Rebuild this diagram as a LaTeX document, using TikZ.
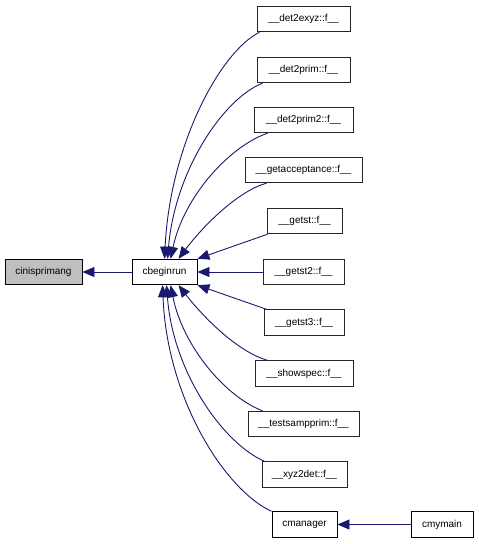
\documentclass[tikz,border=0pt]{standalone}
\usepackage{fontspec}
\setmainfont{Liberation Sans}
\usetikzlibrary{arrows.meta}
\definecolor{edgeblue}{HTML}{191970}
\definecolor{boxgray}{HTML}{BFBFBF}
\tikzset{
  box/.style={draw=black, line width=0.9pt, inner sep=0pt, minimum height=25.5pt, font=\fontsize{10}{12}\selectfont, fill=white},
  rbox/.style={box, draw=black!85},
  edge/.style={draw=edgeblue, line width=0.9pt, -{Triangle[length=12pt,width=10pt]}}
}
\begin{document}
\begin{tikzpicture}[x=1pt,y=-1pt]
\useasboundingbox (0,0) rectangle (479,544);
\node[box, fill=boxgray, minimum width=77pt] (ci) at (43.5,272) {cinisprimang};
\node[box, minimum width=65pt] (cb) at (164.5,272) {cbeginrun};
\node[rbox, minimum width=93pt] (d1) at (303.5,19) {\_\_det2exyz::f\_\_};
\node[rbox, minimum width=93pt] (d2) at (303.5,70) {\_\_det2prim::f\_\_};
\node[rbox, minimum width=99pt] (d3) at (303.5,120) {\_\_det2prim2::f\_\_};
\node[rbox, minimum width=117pt] (ga) at (303.5,170) {\_\_getacceptance::f\_\_};
\node[rbox, minimum width=75pt] (g1) at (304.5,221) {\_\_getst::f\_\_};
\node[rbox, minimum width=81pt] (g2) at (303.5,272) {\_\_getst2::f\_\_};
\node[rbox, minimum width=80pt] (g3) at (304,322.5) {\_\_getst3::f\_\_};
\node[rbox, minimum width=98pt] (ss) at (304,373.5) {\_\_showspec::f\_\_};
\node[rbox, minimum width=111pt] (ts) at (303.5,424) {\_\_testsampprim::f\_\_};
\node[rbox, minimum width=85pt] (xy) at (304.5,474.5) {\_\_xyz2det::f\_\_};
\node[box, minimum width=65pt] (cm) at (304.5,524.5) {cmanager};
\node[box, minimum width=62pt] (my) at (442,524.5) {cmymain};

\draw[edge] (cb.west) -- (ci.east);
\draw[edge] ([xshift=3pt]d1.south west) .. controls (220,52) and (170,145) .. ([xshift=33pt]cb.north west);
\draw[edge] ([xshift=6pt]d2.south west) .. controls (224,98) and (175,170) .. ([xshift=36pt]cb.north west);
\draw[edge] ([xshift=14pt]d3.south west) .. controls (230,146) and (184,196) .. ([xshift=39pt]cb.north west);
\draw[edge] ([xshift=22pt]ga.south west) .. controls (238,191) and (203,226) .. ([xshift=47pt]cb.north west);
\draw[edge] ([xshift=1pt]g1.south west) -- (cb.north east);
\draw[edge] (g2.west) -- (cb.east);
\draw[edge] ([xshift=3pt]g3.north west) -- (cb.south east);
\draw[edge] ([xshift=13pt]ss.north west) .. controls (238,352) and (204,318) .. ([xshift=47pt]cb.south west);
\draw[edge] ([xshift=15pt]ts.north west) .. controls (226,397) and (183,347) .. ([xshift=39pt]cb.south west);
\draw[edge] ([xshift=3pt]xy.north west) .. controls (224,444) and (173,373) .. ([xshift=35pt]cb.south west);
\draw[edge] (cm.north west) .. controls (225,490) and (167,399) .. ([xshift=31pt]cb.south west);
\draw[edge] (my.west) -- (cm.east);
\end{tikzpicture}
\end{document}
